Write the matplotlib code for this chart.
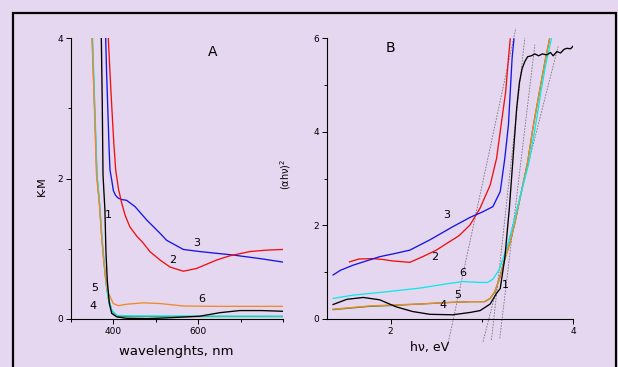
import matplotlib
matplotlib.use("Agg")
import matplotlib.pyplot as plt
from matplotlib.patches import Rectangle
from matplotlib.ticker import MultipleLocator

W, H = 618, 367
BG = "#E6D7F0"

# ---------------- Panel A data (K-M vs wavelength) ----------------
a1_wl = [371.5, 373.8, 375.5, 380, 382.5, 385.6, 390.4, 396, 408, 431, 480, 540, 604, 651, 698, 750, 800]
a1_km = [4.0, 3.04, 2.05, 1.55, 0.94, 0.55, 0.22, 0.08, 0.03, 0.01, 0.005, 0.02, 0.04, 0.09, 0.12, 0.12, 0.11]

a2_wl = [388, 392, 396, 401, 405.4, 412, 419.6, 428, 439, 455, 470.5, 486, 510, 533.5, 565, 596.5, 620, 643.6, 675, 722, 760, 800]
a2_km = [4.0, 3.5, 3.04, 2.5, 2.12, 1.85, 1.65, 1.47, 1.31, 1.18, 1.08, 0.96, 0.84, 0.74, 0.68, 0.72, 0.78, 0.84, 0.90, 0.96, 0.98, 0.99]

a3_wl = [381.8, 384, 386.5, 390, 392, 396, 399.8, 405, 411.6, 420, 431, 451, 478.5, 510, 525.7, 565, 604, 683, 745.8, 800]
a3_km = [4.0, 3.5, 3.04, 2.4, 2.12, 1.98, 1.83, 1.76, 1.72, 1.70, 1.69, 1.60, 1.41, 1.22, 1.12, 0.99, 0.96, 0.91, 0.86, 0.81]

a4_wl = [350, 355.5, 361, 367, 372.5, 378, 383, 388, 396, 408, 450, 600, 800]
a4_km = [4.0, 3.04, 2.05, 1.65, 1.17, 0.79, 0.5, 0.3, 0.12, 0.04, 0.035, 0.035, 0.035]

a5_wl = [351, 356, 361.5, 367.5, 373, 378.5, 383, 388, 396, 408, 450, 600, 800]
a5_km = [4.0, 3.04, 2.05, 1.65, 1.17, 0.79, 0.5, 0.3, 0.13, 0.05, 0.045, 0.042, 0.04]

a6_wl = [349.5, 355, 360, 366.8, 372.3, 377.8, 382.5, 388, 399.8, 411.6, 431, 470, 510, 565, 650, 800]
a6_km = [4.0, 3.04, 2.05, 1.65, 1.17, 0.79, 0.55, 0.37, 0.22, 0.19, 0.21, 0.23, 0.22, 0.185, 0.18, 0.18]

# ---------------- Panel B data ((alpha h nu)^2 vs h nu) ----------------
b1_ev = [1.37, 1.52, 1.70, 1.88, 2.06, 2.24, 2.43, 2.68, 2.87, 2.98, 3.09, 3.16, 3.20, 3.25, 3.30, 3.34,
         3.38, 3.41, 3.44, 3.47, 3.50, 3.54, 3.58, 3.62, 3.66, 3.71, 3.75, 3.78, 3.82, 3.86, 3.90, 3.93, 3.97, 4.0]
b1_y = [0.31, 0.42, 0.46, 0.41, 0.26, 0.16, 0.10, 0.09, 0.14, 0.18, 0.32, 0.55, 0.65, 1.30, 2.37, 3.43,
        4.50, 5.05, 5.35, 5.50, 5.60, 5.62, 5.66, 5.62, 5.66, 5.64, 5.69, 5.62, 5.71, 5.68, 5.76, 5.78, 5.77, 5.83]

b2_ev = [1.55, 1.65, 1.80, 1.92, 2.02, 2.21, 2.35, 2.50, 2.62, 2.75, 2.87, 2.98, 3.09, 3.16, 3.21, 3.26, 3.29, 3.31]
b2_y = [1.22, 1.28, 1.29, 1.27, 1.24, 1.21, 1.33, 1.47, 1.62, 1.78, 2.01, 2.37, 2.86, 3.43, 4.15, 4.86, 5.57, 5.98]

b3_ev = [1.37, 1.45, 1.59, 1.75, 1.88, 2.05, 2.21, 2.43, 2.68, 2.87, 3.01, 3.12, 3.20, 3.25, 3.29, 3.31, 3.33, 3.35]
b3_y = [0.94, 1.04, 1.15, 1.25, 1.33, 1.40, 1.47, 1.69, 1.97, 2.17, 2.29, 2.40, 2.72, 3.43, 4.15, 4.86, 5.57, 5.98]

b4_ev = [1.37, 1.77, 2.02, 2.32, 2.61, 2.87, 3.03, 3.09, 3.14, 3.195, 3.25, 3.31, 3.36, 3.43, 3.50, 3.56, 3.63, 3.69, 3.74]
b4_y = [0.20, 0.27, 0.29, 0.32, 0.35, 0.37, 0.37, 0.44, 0.58, 0.88, 1.28, 1.65, 2.05, 2.70, 3.35, 4.10, 4.86, 5.50, 5.98]

b5_ev = [1.37, 1.77, 2.02, 2.32, 2.61, 2.87, 3.03, 3.09, 3.14, 3.195, 3.25, 3.31, 3.36, 3.43, 3.50, 3.56, 3.63, 3.69, 3.74]
b5_y = [0.21, 0.28, 0.30, 0.32, 0.35, 0.37, 0.37, 0.44, 0.58, 0.88, 1.28, 1.65, 2.05, 2.70, 3.35, 4.10, 4.86, 5.50, 5.98]

b6_ev = [1.37, 1.59, 1.95, 2.32, 2.61, 2.79, 2.98, 3.06, 3.12, 3.19, 3.25, 3.30, 3.36, 3.43, 3.51, 3.58, 3.65, 3.70, 3.76]
b6_y = [0.44, 0.51, 0.58, 0.66, 0.75, 0.80, 0.78, 0.78, 0.85, 1.06, 1.40, 1.70, 2.15, 2.70, 3.30, 4.05, 4.90, 5.45, 5.98]

# tangent (extrapolation) lines: [x0, x1], [y0, y1]
tan_x = [[2.625, 3.371], [3.104, 3.469], [3.195, 3.579], [3.012, 3.834]]
tan_y = [[-0.556, 6.21], [-0.449, 6.0], [-0.413, 5.857], [-0.485, 5.82]]

# curve number labels
a_lab = ["1", "2", "3", "5", "4", "6"]
a_lab_x = [388, 540, 596.5, 355, 352.6, 608]
a_lab_y = [1.48, 0.84, 1.08, 0.44, 0.18, 0.28]
b_lab = ["3", "2", "6", "5", "4", "1"]
b_lab_x = [2.611, 2.482, 2.793, 2.738, 2.573, 3.261]
b_lab_y = [2.22, 1.33, 0.98, 0.51, 0.30, 0.73]

C_BLACK = "#000000"
C_RED = "#F01010"
C_BLUE = "#1515E6"
C_CYAN = "#10E8E8"
C_ORANGE = "#EE8A2A"
C_GREEN = "#2E8B2E"

plt.rcParams["font.family"] = ["DejaVu Sans"]
fig = plt.figure(figsize=(W / 100, H / 100), dpi=100, facecolor=BG)

# outer frame
fig.patches.append(Rectangle((12.5 / W, -0.05), (615.5 - 12.5) / W, 1 - 12.5 / H + 0.05,
                             transform=fig.transFigure, fill=False, edgecolor="black",
                             linewidth=1.6))

bottom = 1 - 319 / H
top = 1 - 38 / H
axA = fig.add_axes([71 / W, bottom, (283 - 71) / W, top - bottom])
axB = fig.add_axes([326.7 / W, bottom, (573.3 - 326.7) / W, top - bottom])

lw = 0.95
for ax in (axA, axB):
    ax.set_facecolor("none")
    for s in ("top", "right"):
        ax.spines[s].set_visible(False)
    for s in ("left", "bottom"):
        ax.spines[s].set_linewidth(0.8)
    ax.tick_params(which="major", direction="out", length=3.5, width=0.7, labelsize=6.5, pad=2)
    ax.tick_params(which="minor", direction="out", length=2, width=0.7)

# Panel A
axA.plot(a4_wl, a4_km, color=C_GREEN, lw=lw)
axA.plot(a5_wl, a5_km, color=C_CYAN, lw=lw)
axA.plot(a6_wl, a6_km, color=C_ORANGE, lw=lw)
axA.plot(a1_wl, a1_km, color=C_BLACK, lw=lw)
axA.plot(a3_wl, a3_km, color=C_BLUE, lw=lw)
axA.plot(a2_wl, a2_km, color=C_RED, lw=lw)
axA.set_xlim(300, 800)
axA.set_ylim(0, 4)
axA.xaxis.set_minor_locator(MultipleLocator(100))
axA.yaxis.set_major_locator(MultipleLocator(2))
axA.yaxis.set_minor_locator(MultipleLocator(1))
axA.set_xticks([400, 600])
for t, x, y in zip(a_lab, a_lab_x, a_lab_y):
    axA.text(x, y, t, fontsize=8, ha="center", va="center")
axA.text(0.67, 0.95, "A", transform=axA.transAxes, fontsize=10, ha="center", va="center")

# Panel B
for xs, ys in zip(tan_x, tan_y):
    axB.plot(xs, ys, color="#777777", lw=0.6, ls=(0, (2, 1.5)), clip_on=False)
axB.plot(b4_ev, b4_y, color=C_GREEN, lw=lw)
axB.plot(b5_ev, b5_y, color=C_ORANGE, lw=lw)
axB.plot(b6_ev, b6_y, color=C_CYAN, lw=lw)
axB.plot(b1_ev, b1_y, color=C_BLACK, lw=lw)
axB.plot(b2_ev, b2_y, color=C_RED, lw=lw)
axB.plot(b3_ev, b3_y, color=C_BLUE, lw=lw)
axB.set_xlim(1.3, 4.0)
axB.set_ylim(0, 6)
axB.set_xticks([2, 4])
axB.xaxis.set_minor_locator(MultipleLocator(1))
axB.yaxis.set_major_locator(MultipleLocator(2))
axB.yaxis.set_minor_locator(MultipleLocator(1))
for t, x, y in zip(b_lab, b_lab_x, b_lab_y):
    axB.text(x, y, t, fontsize=8, ha="center", va="center")
axB.text(0.26, 0.965, "B", transform=axB.transAxes, fontsize=10, ha="center", va="center")

# axis titles
fig.text(41.7 / W, 1 - 186 / H, "K-M", rotation=90, fontsize=8, ha="center", va="center")
fig.text(176.5 / W, 1 - 352 / H, "wavelenghts, nm", fontsize=9.5, ha="center", va="center")
fig.text(286 / W, 1 - 174 / H, "(\u03b1h\u03bd)$^2$", rotation=90, fontsize=7, ha="center", va="center")
fig.text(430 / W, 1 - 347 / H, "h\u03bd, eV", fontsize=9, ha="center", va="center")

fig.savefig("out.png", dpi=100, facecolor=BG)
